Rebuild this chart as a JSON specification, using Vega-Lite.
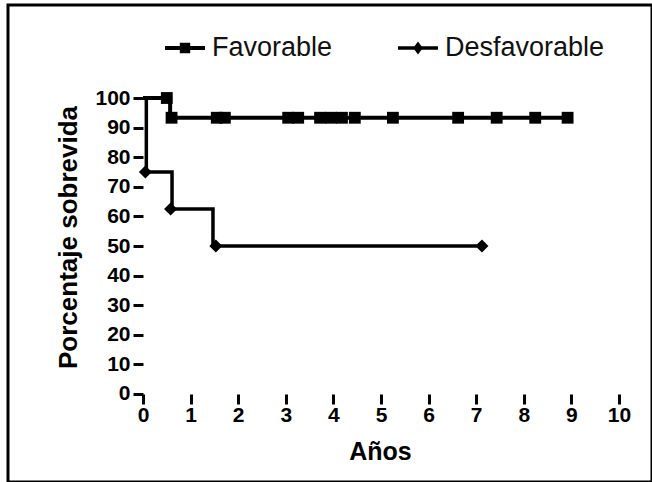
{
  "$schema": "https://vega.github.io/schema/vega-lite/v6.json",
  "autosize": "none",
  "width": 644,
  "height": 477,
  "padding": {"left": 8, "top": 5, "right": 0, "bottom": 0},
  "background": "white",
  "config": {"view": {"stroke": "black", "strokeWidth": 3}, "font": "Liberation Sans"},
  "datasets": {
    "curvas": [
      {"grupo": "Favorable", "anios": 0, "porcentaje": 100},
      {"grupo": "Favorable", "anios": 0.57, "porcentaje": 93.33},
      {"grupo": "Favorable", "anios": 8.92, "porcentaje": 93.33},
      {"grupo": "Desfavorable", "anios": 0, "porcentaje": 100},
      {"grupo": "Desfavorable", "anios": 0.07, "porcentaje": 75},
      {"grupo": "Desfavorable", "anios": 0.61, "porcentaje": 62.5},
      {"grupo": "Desfavorable", "anios": 1.47, "porcentaje": 50},
      {"grupo": "Desfavorable", "anios": 7.12, "porcentaje": 50}
    ],
    "censurados": [
      {"grupo": "Favorable", "anios": 0.5, "porcentaje": 100},
      {"grupo": "Favorable", "anios": 0.6, "porcentaje": 93.33},
      {"grupo": "Favorable", "anios": 1.55, "porcentaje": 93.33},
      {"grupo": "Favorable", "anios": 1.72, "porcentaje": 93.33},
      {"grupo": "Favorable", "anios": 3.05, "porcentaje": 93.33},
      {"grupo": "Favorable", "anios": 3.26, "porcentaje": 93.33},
      {"grupo": "Favorable", "anios": 3.72, "porcentaje": 93.33},
      {"grupo": "Favorable", "anios": 3.95, "porcentaje": 93.33},
      {"grupo": "Favorable", "anios": 4.18, "porcentaje": 93.33},
      {"grupo": "Favorable", "anios": 4.45, "porcentaje": 93.33},
      {"grupo": "Favorable", "anios": 5.25, "porcentaje": 93.33},
      {"grupo": "Favorable", "anios": 6.62, "porcentaje": 93.33},
      {"grupo": "Favorable", "anios": 7.43, "porcentaje": 93.33},
      {"grupo": "Favorable", "anios": 8.24, "porcentaje": 93.33},
      {"grupo": "Favorable", "anios": 8.92, "porcentaje": 93.33},
      {"grupo": "Desfavorable", "anios": 0.05, "porcentaje": 75},
      {"grupo": "Desfavorable", "anios": 0.58, "porcentaje": 62.5},
      {"grupo": "Desfavorable", "anios": 1.53, "porcentaje": 50},
      {"grupo": "Desfavorable", "anios": 7.12, "porcentaje": 50}
    ]
  },
  "layer": [
    {
      "data": {"name": "curvas"},
      "transform": [{"filter": "datum.grupo === 'Favorable'"}],
      "mark": {"type": "line", "interpolate": "step-after", "color": "black", "strokeWidth": 4, "clip": false},
      "encoding": {
        "x": {
          "field": "anios", "type": "quantitative",
          "scale": {"domain": [-2.836, 10.693], "nice": false, "zero": false},
          "axis": {
            "values": [0, 1, 2, 3, 4, 5, 6, 7, 8, 9, 10],
            "domain": false, "grid": false, "offset": -88,
            "tickSize": 10, "tickWidth": 3, "tickColor": "black",
            "labelFont": "Liberation Sans", "labelFontWeight": "bold", "labelFontSize": 21,
            "labelColor": "black", "labelPadding": 0, "labelFlush": false, "labelOverlap": false,
            "title": "Años", "titleFont": "Liberation Sans", "titleFontSize": 25, "titleFontWeight": "bold",
            "titleColor": "black", "titleX": 372, "titleY": 57, "titleAlign": "center", "titleBaseline": "middle"
          }
        },
        "y": {
          "field": "porcentaje", "type": "quantitative",
          "scale": {"domain": [-29.73, 131.42], "nice": false, "zero": false},
          "axis": {
            "values": [0, 10, 20, 30, 40, 50, 60, 70, 80, 90, 100],
            "domain": false, "grid": false, "offset": -135,
            "tickSize": 10, "tickWidth": 3, "tickColor": "black",
            "labelFont": "Liberation Sans", "labelFontWeight": "bold", "labelFontSize": 21,
            "labelColor": "black", "labelPadding": 3, "labelOverlap": false, "labelFlush": false,
            "title": "Porcentaje sobrevida", "titleFont": "Liberation Sans", "titleFontSize": 26, "titleFontWeight": "bold",
            "titleColor": "black", "titleX": -75, "titleY": 232, "titleAngle": 270, "titleAlign": "center", "titleBaseline": "middle"
          }
        }
      }
    },
    {
      "data": {"name": "curvas"},
      "transform": [{"filter": "datum.grupo === 'Desfavorable'"}],
      "mark": {"type": "line", "interpolate": "step-after", "color": "black", "strokeWidth": 3.5, "clip": false},
      "encoding": {
        "x": {"field": "anios", "type": "quantitative", "scale": {"domain": [-2.836, 10.693], "nice": false, "zero": false}},
        "y": {"field": "porcentaje", "type": "quantitative", "scale": {"domain": [-29.73, 131.42], "nice": false, "zero": false}}
      }
    },
    {
      "data": {"name": "censurados"},
      "transform": [{"filter": "datum.grupo === 'Favorable'"}],
      "mark": {"type": "point", "shape": "square", "filled": true, "color": "black", "opacity": 1, "size": 140, "clip": false},
      "encoding": {
        "x": {"field": "anios", "type": "quantitative", "scale": {"domain": [-2.836, 10.693], "nice": false, "zero": false}},
        "y": {"field": "porcentaje", "type": "quantitative", "scale": {"domain": [-29.73, 131.42], "nice": false, "zero": false}}
      }
    },
    {
      "data": {"name": "censurados"},
      "transform": [{"filter": "datum.grupo === 'Desfavorable'"}],
      "mark": {"type": "point", "shape": "diamond", "filled": true, "color": "black", "opacity": 1, "size": 170, "clip": false},
      "encoding": {
        "x": {"field": "anios", "type": "quantitative", "scale": {"domain": [-2.836, 10.693], "nice": false, "zero": false}},
        "y": {"field": "porcentaje", "type": "quantitative", "scale": {"domain": [-29.73, 131.42], "nice": false, "zero": false}}
      }
    },
    {
      "data": {"name": "censurados"},
      "transform": [{"filter": "false"}],
      "mark": {"type": "point", "filled": true, "color": "black", "opacity": 1},
      "encoding": {
        "x": {"field": "anios", "type": "quantitative", "scale": {"domain": [-2.836, 10.693], "nice": false, "zero": false}},
        "y": {"field": "porcentaje", "type": "quantitative", "scale": {"domain": [-29.73, 131.42], "nice": false, "zero": false}},
        "shape": {
          "field": "grupo", "type": "nominal",
          "scale": {
            "domain": ["Favorable", "Desfavorable"],
            "range": ["M-1,-0.1H1V0.1H-1Z M-0.26,-0.26H0.26V0.26H-0.26Z", "M-1,-0.09H1V0.09H-1Z M0,-0.32L0.24,0L0,0.32L-0.24,0Z"]
          },
          "legend": {
            "orient": "none", "legendX": 157, "legendY": 23, "direction": "horizontal", "title": null,
            "symbolSize": 1600, "symbolOpacity": 1, "symbolFillColor": "black", "symbolStrokeWidth": 0,
            "labelFont": "Liberation Sans", "labelFontSize": 27, "labelColor": "#111111",
            "labelOffset": 7, "columnPadding": 65, "padding": 0
          }
        }
      }
    },
    {
      "mark": {"type": "rule", "color": "black", "strokeWidth": 3.5},
      "encoding": {
        "x": {"datum": 0, "type": "quantitative", "scale": {"domain": [-2.836, 10.693], "nice": false, "zero": false}},
        "x2": {"datum": 10},
        "y": {"datum": 0, "type": "quantitative", "scale": {"domain": [-29.73, 131.42], "nice": false, "zero": false}}
      }
    },
    {
      "mark": {"type": "rule", "color": "black", "strokeWidth": 3.5},
      "encoding": {
        "x": {"datum": 0, "type": "quantitative", "scale": {"domain": [-2.836, 10.693], "nice": false, "zero": false}},
        "y": {"datum": 0, "type": "quantitative", "scale": {"domain": [-29.73, 131.42], "nice": false, "zero": false}},
        "y2": {"datum": 100}
      }
    }
  ]
}
